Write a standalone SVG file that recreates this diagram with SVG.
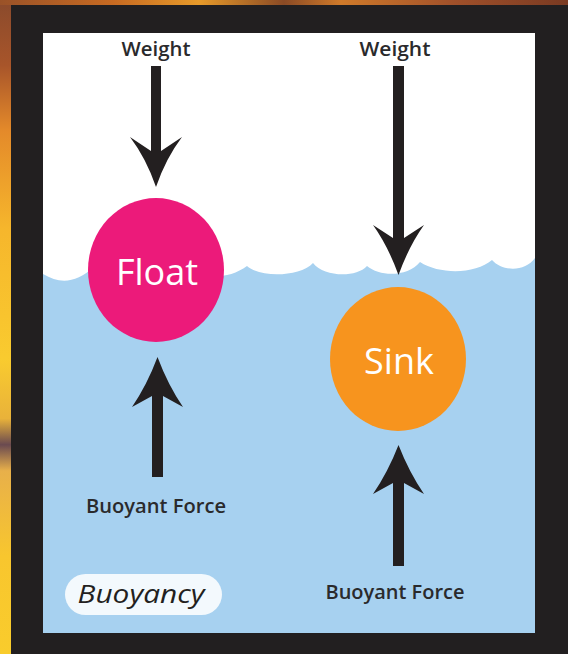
<svg xmlns="http://www.w3.org/2000/svg" width="568" height="654" viewBox="0 0 568 654">
  <defs>
    <linearGradient id="leftStrip" x1="0" y1="0" x2="0" y2="1">
      <stop offset="0" stop-color="#8a4a2c"/>
      <stop offset="0.1" stop-color="#a8552a"/>
      <stop offset="0.2" stop-color="#e48a2a"/>
      <stop offset="0.35" stop-color="#f6b62c"/>
      <stop offset="0.55" stop-color="#f9cb2f"/>
      <stop offset="0.64" stop-color="#e9b23a"/>
      <stop offset="0.68" stop-color="#6a4a50"/>
      <stop offset="0.72" stop-color="#e8b04a"/>
      <stop offset="0.85" stop-color="#f8c62e"/>
      <stop offset="1" stop-color="#f9cc2c"/>
    </linearGradient>
    <linearGradient id="topStrip" x1="0" y1="0" x2="1" y2="0">
      <stop offset="0" stop-color="#9a5228"/>
      <stop offset="0.2" stop-color="#c76a22"/>
      <stop offset="0.35" stop-color="#e79a2a"/>
      <stop offset="0.5" stop-color="#8a4a25"/>
      <stop offset="0.6" stop-color="#d07a2a"/>
      <stop offset="0.8" stop-color="#a0502a"/>
      <stop offset="1" stop-color="#7a3a22"/>
    </linearGradient>
    <style>
      .lbl { font-family: "Open Sans", "Liberation Sans", sans-serif; font-weight: 600; fill: #2a2a2c; }
      .ball { font-family: "Open Sans", "Liberation Sans", sans-serif; font-size: 36px; fill: #ffffff; text-anchor: middle; }
      .arrow { fill: #231f20; }
    </style>
  </defs>

  <!-- background photo edges and frame -->
  <rect x="0" y="0" width="568" height="654" fill="#221f20"/>
  <rect x="0" y="0" width="11" height="654" fill="url(#leftStrip)"/>
  <rect x="0" y="0" width="568" height="5" fill="url(#topStrip)"/>

  <!-- panel -->
  <g id="panel">
    <rect x="43" y="33" width="492" height="600" fill="#ffffff"/>
    <path fill="#a7d1f0" d="M43,274
      C60,284 75,284 95,266
      C110,280 160,280 182,266
      C200,280 228,280 247,266
      C260,278 300,277 313,263
      C324,277 356,278 367,266
      C380,277 408,277 420,262
      C440,275 476,274 492,260
      C503,272 525,272 535,258
      L535,633 L43,633 Z"/>
  </g>

  <g id="float">
    <ellipse cx="156" cy="270" rx="68" ry="72" fill="#ec1a7a"/>
    <text class="ball" x="157" y="285">Float</text>
  </g>

  <g id="sink">
    <ellipse cx="398" cy="359" rx="68" ry="72" fill="#f7941e"/>
    <text class="ball" x="399" y="374">Sink</text>
  </g>

  <g id="weight-left">
    <text class="lbl" x="156" y="56" font-size="20" text-anchor="middle" textLength="69" lengthAdjust="spacingAndGlyphs">Weight</text>
  </g>
  <g id="weight-right">
    <text class="lbl" x="395" y="56" font-size="20" text-anchor="middle" textLength="71" lengthAdjust="spacingAndGlyphs">Weight</text>
  </g>
  <g id="buoyant-left">
    <text class="lbl" x="156" y="513" font-size="20" text-anchor="middle" textLength="140" lengthAdjust="spacingAndGlyphs">Buoyant Force</text>
  </g>
  <g id="buoyant-right">
    <text class="lbl" x="395" y="599" font-size="20" text-anchor="middle" textLength="139" lengthAdjust="spacingAndGlyphs">Buoyant Force</text>
  </g>

  <g id="title">
    <rect x="65" y="574" width="157" height="41" rx="20.5" fill="#f3f9fd"/>
    <text x="141" y="603" font-family="'Open Sans', 'Liberation Sans', sans-serif" font-style="italic" font-size="26" fill="#231f20" text-anchor="middle" textLength="127" lengthAdjust="spacingAndGlyphs">Buoyancy</text>
  </g>

  <g id="connectors">
    <path class="arrow" d="M151,66 H161 V151 L182,137 Q166,158 156,187 Q146,158 130,137 L151,151 Z"/>
    <path class="arrow" d="M393,66 H404 V238 L424,225 Q409,246 398.5,275 Q388,246 373,225 L393,238 Z"/>
    <path class="arrow" d="M152,477 H163 V396 L183,407 Q168,385 157.5,357 Q147,385 132,407 L152,396 Z"/>
    <path class="arrow" d="M393,566 H404 V483 L424,494 Q409,472 398.5,445 Q388,472 373,494 L393,483 Z"/>
  </g>
</svg>
